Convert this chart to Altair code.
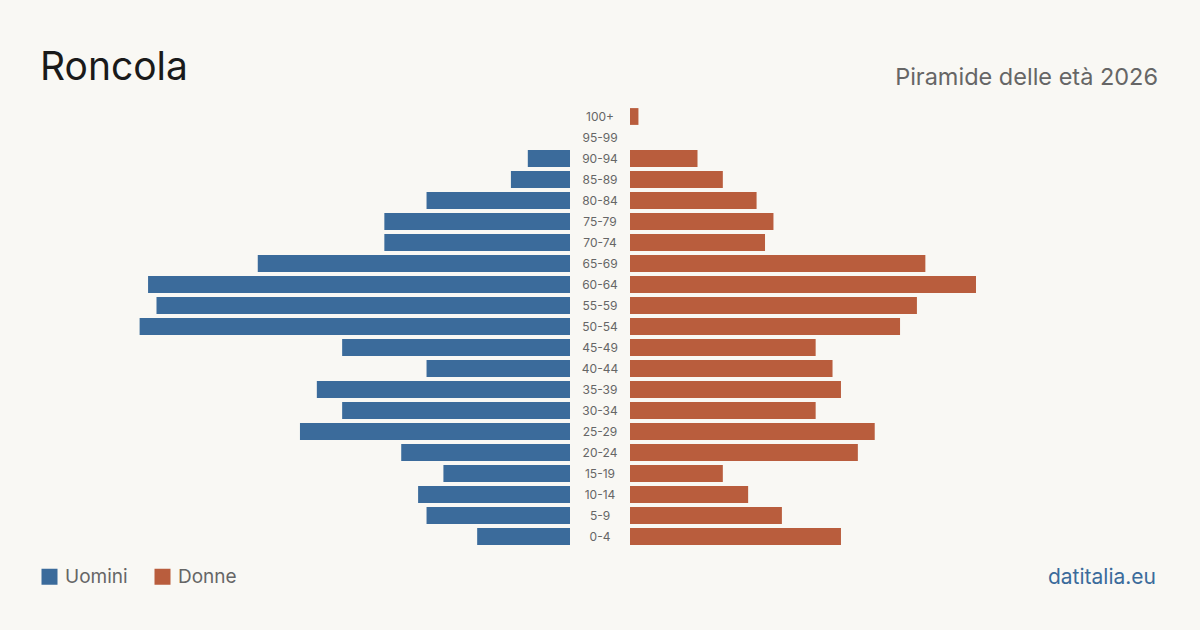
import altair as alt
import pandas as pd

# Age classes, bottom to top
ages = ["0-4", "5-9", "10-14", "15-19", "20-24", "25-29", "30-34", "35-39",
        "40-44", "45-49", "50-54", "55-59", "60-64", "65-69", "70-74",
        "75-79", "80-84", "85-89", "90-94", "95-99", "100+"]
men = [11, 17, 18, 15, 20, 32, 27, 30, 17, 27, 51, 49, 50, 37, 22, 22, 17, 7, 5, 0, 0]
women = [25, 18, 14, 11, 27, 29, 22, 25, 24, 22, 32, 34, 41, 35, 16, 17, 15, 11, 8, 0, 1]
sexes = ["Uomini", "Donne"]

BLUE = "#3b6b9b"
RED = "#b95d3d"
BG = "#f9f8f4"
FONT = "Inter"

rows = []
for a, m, w in zip(ages, men, women):
    rows.append({"age": a, "sex": sexes[0], "value": m})
    rows.append({"age": a, "sex": sexes[1], "value": w})
df = pd.DataFrame(rows)

top_down = list(reversed(ages))
HALF = 71.1  # half-width of the value axis (people)

y_enc = alt.Y("age:N", sort=top_down, axis=None,
              scale=alt.Scale(paddingInner=0.2, paddingOuter=0.1))
x_scale = alt.Scale(domain=[-HALF, HALF], nice=False, zero=False)
color_enc = alt.Color(
    "sex:N",
    scale=alt.Scale(domain=sexes, range=[BLUE, RED]),
    legend=alt.Legend(
        orient="none", legendX=40, legendY=461, direction="horizontal",
        title=None, symbolType="square", symbolSize=256, symbolStrokeWidth=0,
        symbolOpacity=1, labelFontSize=19, labelColor="#666666", labelFont=FONT,
        labelOffset=6, columnPadding=25, padding=0,
    ),
)

base = alt.Chart(df)

men_bars = base.transform_filter(alt.datum.sex == "Uomini").transform_calculate(
    signed="-datum.value"
).mark_bar(xOffset=-30, x2Offset=-30).encode(
    x=alt.X("signed:Q", scale=x_scale, axis=None),
    y=y_enc,
    color=color_enc,
)

women_bars = base.transform_filter(alt.datum.sex == "Donne").mark_bar(
    xOffset=30, x2Offset=30
).encode(
    x=alt.X("value:Q", scale=x_scale, axis=None),
    y=y_enc,
    color=color_enc,
)

age_labels = base.transform_filter(alt.datum.sex == "Uomini").mark_text(
    font=FONT, fontSize=12, color="#666666", align="center", baseline="middle"
).encode(
    x=alt.datum(0, scale=x_scale),
    y=y_enc,
    text="age:N",
)

one = alt.Data(values=[{}])

title = alt.Chart(one).mark_text(
    font=FONT, fontSize=39, color="#1a1a1a", align="left", baseline="alphabetic"
).encode(x=alt.value(40), y=alt.value(-26), text=alt.value("Roncola"))

subtitle = alt.Chart(one).mark_text(
    font=FONT, fontSize=23.5, color="#666666", align="right", baseline="alphabetic"
).encode(x=alt.value(1158), y=alt.value(-21), text=alt.value("Piramide delle età 2026"))

credit = alt.Chart(one).mark_text(
    font=FONT, fontSize=21, color=BLUE, align="right", baseline="alphabetic"
).encode(x=alt.value(1156), y=alt.value(478), text=alt.value("datitalia.eu"))

chart = alt.layer(men_bars, women_bars, age_labels, title, subtitle, credit).properties(
    width=1200,
    height=441,
    autosize=alt.AutoSizeParams(type="none"),
    padding={"left": 0, "top": 106, "right": 0, "bottom": 83},
    background=BG,
).configure_view(stroke=None)

chart.save("out.html", embed_options={"renderer": "svg", "actions": False})
